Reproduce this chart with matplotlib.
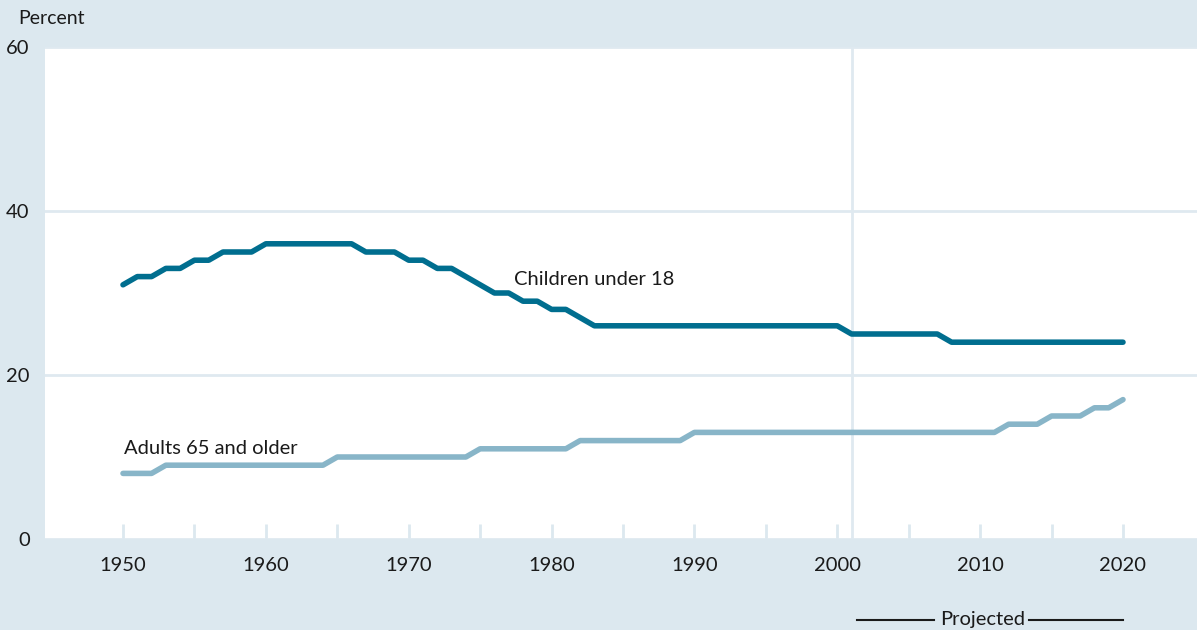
import matplotlib
matplotlib.use("Agg")
import matplotlib.pyplot as plt
import matplotlib.transforms as mtransforms
import numpy as np

# --------------------------------------------------
# Data (percent of population)
# --------------------------------------------------

years = list(range(1950, 2021))

children = [
    31, 32, 32, 33, 33, 34, 34, 35, 35, 35,   # 1950-1959
    36, 36, 36, 36, 36, 36, 36, 35, 35, 35,   # 1960-1969
    34, 34, 33, 33, 32, 31, 30, 30, 29, 29,   # 1970-1979
    28, 28, 27, 26, 26, 26, 26, 26, 26, 26,   # 1980-1989
    26, 26, 26, 26, 26, 26, 26, 26, 26, 26,   # 1990-1999
    26, 25, 25, 25, 25, 25, 25, 25, 24, 24,   # 2000-2009
    24, 24, 24, 24, 24, 24, 24, 24, 24, 24,   # 2010-2019
    24,                                       # 2020
]

adults = [
    8, 8, 8, 9, 9, 9, 9, 9, 9, 9,             # 1950-1959
    9, 9, 9, 9, 9, 10, 10, 10, 10, 10,        # 1960-1969
    10, 10, 10, 10, 10, 11, 11, 11, 11, 11,   # 1970-1979
    11, 11, 12, 12, 12, 12, 12, 12, 12, 12,   # 1980-1989
    13, 13, 13, 13, 13, 13, 13, 13, 13, 13,   # 1990-1999
    13, 13, 13, 13, 13, 13, 13, 13, 13, 13,   # 2000-2009
    13, 13, 14, 14, 14, 15, 15, 15, 16, 16,   # 2010-2019
    17,                                       # 2020
]

series_labels = ["Children under 18", "Adults 65 and older"]
projection_start = 2001
projection_end = 2020

# --------------------------------------------------
# Style
# --------------------------------------------------

plt.rcParams["font.family"] = ["Lato", "DejaVu Sans"]

BG = "#dce8ef"
GRID = "#dfe9f0"
DARK = "#006e8f"
LIGHT = "#88b5c8"
TEXT = "#1a1a1a"

fig = plt.figure(figsize=(11.97, 6.30), dpi=100)
fig.patch.set_facecolor(BG)

ax = fig.add_axes([45 / 1197, 91 / 630, 1152 / 1197, 492 / 630])
ax.set_facecolor("white")

ax.set_xlim(1944.54, 2025.18)
ax.set_ylim(0, 60)

for s in ax.spines.values():
    s.set_visible(False)

# horizontal grid
ax.set_yticks([0, 20, 40, 60])
ax.yaxis.grid(True, color=GRID, linewidth=2)
ax.set_axisbelow(True)

# vertical line marking start of projections
ax.axvline(projection_start, color=GRID, linewidth=2, zorder=1)

# ticks
ax.set_xticks(range(1950, 2021, 10))
ax.set_xticks(range(1955, 2021, 10), minor=True)
ax.tick_params(axis="x", which="both", direction="in", length=11, width=2,
               color=BG, labelsize=14.5, labelcolor=TEXT, pad=13)
ax.tick_params(axis="y", length=0, labelsize=14.5, labelcolor=TEXT, pad=11)

# --------------------------------------------------
# Lines
# --------------------------------------------------

ax.plot(years, children, color=DARK, linewidth=4,
        solid_capstyle="round", solid_joinstyle="round", zorder=3)
ax.plot(years, adults, color=LIGHT, linewidth=4,
        solid_capstyle="round", solid_joinstyle="round", zorder=3)

ax.text(1977.4, 31.7, series_labels[0], fontsize=14.5, color=TEXT,
        ha="left", va="center")
ax.text(1950.1, 11.0, series_labels[1], fontsize=14.5, color=TEXT,
        ha="left", va="center")

# --------------------------------------------------
# Labels outside the plot
# --------------------------------------------------

fig.text(18 / 1197, 1 - 18 / 630, "Percent", fontsize=14, color=TEXT,
         ha="left", va="center")

trans = mtransforms.blended_transform_factory(ax.transData, fig.transFigure)
y_proj = 1 - 620 / 630
mid = 2010.2
ax.text(mid, y_proj, "Projected", fontsize=14.5, color=TEXT, ha="center",
        va="center", transform=trans, clip_on=False)
ax.plot([projection_start + 0.4, mid - 3.4], [y_proj, y_proj], color=TEXT,
        linewidth=1.5, transform=trans, clip_on=False)
ax.plot([mid + 3.2, projection_end], [y_proj, y_proj], color=TEXT,
        linewidth=1.5, transform=trans, clip_on=False)

fig.savefig("out.png", dpi=100, facecolor=BG)
